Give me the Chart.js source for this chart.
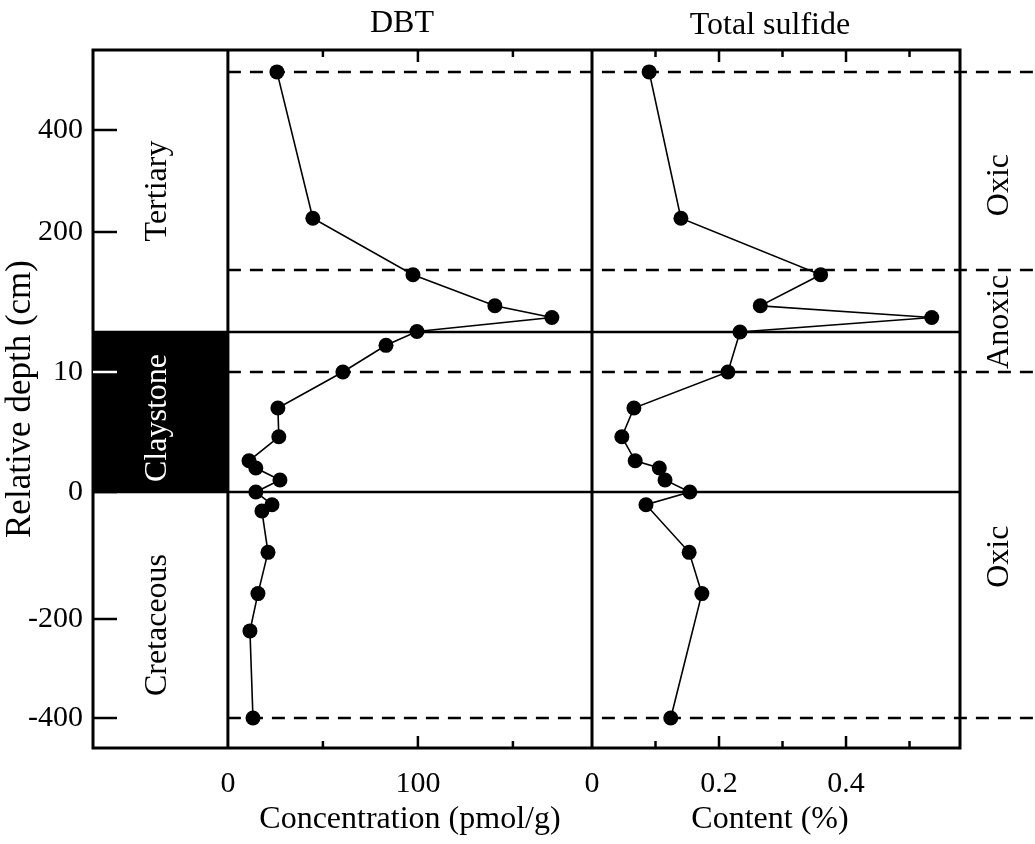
<!DOCTYPE html>
<html>
<head>
<meta charset="utf-8">
<script src="https://cdn.jsdelivr.net/npm/chart.js@4"></script>
<style>
  html, body { margin: 0; padding: 0; background: #fff; }
  #wrap { width: 1035px; height: 844px; }
</style>
</head>
<body>
<div id="wrap"><canvas id="chart" width="1035" height="844"></canvas></div>
<script>
// ── data ──
const DEPTH_DBT = [514, 227, 120, 62, 40, 14, 12, 10, 7, 4.6, 2.6, 2, 1, 0, -20, -30, -95, -160, -224, -400];
const DBT_VALUES = [25.8, 44.7, 97.4, 140.5, 170.5, 99.5, 83.2, 60.5, 26.3, 26.8, 11.1, 14.7, 27.4, 14.7, 23.2, 17.9, 21.1, 15.8, 11.6, 13.2];

const DEPTH_SULFIDE = [514, 227, 120, 62, 40, 13, 10, 7, 4.6, 2.6, 2, 1, 0, -20, -95, -160, -400];
const SULFIDE_VALUES = [0.09, 0.14, 0.36, 0.265, 0.535, 0.233, 0.214, 0.066, 0.047, 0.068, 0.106, 0.115, 0.154, 0.085, 0.153, 0.173, 0.124];

const DEPTH_TICKS = [400, 200, 10, 0, -200, -400];
const DBT_TICKS = [0, 50, 100, 150];
const DBT_LABELS = [0, 100];
const SULFIDE_TICKS = [0, 0.1, 0.2, 0.3, 0.4, 0.5];
const SULFIDE_LABELS = ['0', '0.2', '0.4'];

const DASHED_DEPTHS = [514, 129, 10, -400];
const SOLID_DEPTHS = [13, 0];
const CLAY_TOP = 13;

// the depth axis is broken: each stretch has its own scale
const DEPTH_KNOTS = [-460, -400, -200, 0, 10, 13, 200, 400, 557];
const UNIT_KNOTS = [0, 30, 129, 256, 376, 416, 516, 618, 698];

const FONT = '"Liberation Serif", "Times New Roman", serif';

function interp(v, xs, ys) {
    let i = 0;
    while (i < xs.length - 2 && v > xs[i + 1]) i++;
    const t = (v - xs[i]) / (xs[i + 1] - xs[i]);
    return ys[i] + t * (ys[i + 1] - ys[i]);
}

class DepthScale extends Chart.LinearScale {
    static id = 'depth';
    static defaults = {};
    getPixelForValue(v) {
        if (v === null || v === undefined) return NaN;
        return super.getPixelForValue(interp(v, DEPTH_KNOTS, UNIT_KNOTS));
    }
    getValueForPixel(p) {
        return interp(super.getValueForPixel(p), UNIT_KNOTS, DEPTH_KNOTS);
    }
}
Chart.register(DepthScale);

function line(ctx, x1, y1, x2, y2) {
    ctx.beginPath();
    ctx.moveTo(x1, y1);
    ctx.lineTo(x2, y2);
    ctx.stroke();
}

function vText(ctx, text, x, y, color) {
    ctx.save();
    ctx.translate(x, y);
    ctx.rotate(-Math.PI / 2);
    ctx.fillStyle = color;
    ctx.textAlign = 'center';
    ctx.textBaseline = 'middle';
    ctx.fillText(text, 0, 0);
    ctx.restore();
}

// ── frame, column, reference lines, ticks and labels ──
const overlay = {
    id: 'overlay',
    beforeDatasetsDraw(chart) {
        const { ctx, chartArea: a, scales } = chart;
        const y = scales.y, xd = scales.xDbt, xs = scales.xSul;
        const xDbt0 = xd.getPixelForValue(0);
        const xSul0 = xs.getPixelForValue(0);

        ctx.save();
        // claystone band
        const yClayTop = y.getPixelForValue(CLAY_TOP);
        const yClayBot = y.getPixelForValue(0);
        ctx.fillStyle = '#000';
        ctx.fillRect(a.left, yClayTop, xDbt0 - a.left, yClayBot - yClayTop);

        ctx.strokeStyle = '#000';
        ctx.lineWidth = 2.5;
        ctx.setLineDash([13, 9]);
        DASHED_DEPTHS.forEach(d => {
            const py = y.getPixelForValue(d);
            line(ctx, xDbt0, py, chart.width, py);
        });
        ctx.setLineDash([]);
        SOLID_DEPTHS.forEach(d => {
            const py = y.getPixelForValue(d);
            line(ctx, a.left, py, a.right, py);
        });

        ctx.lineWidth = 3;
        ctx.strokeRect(a.left, a.top, a.right - a.left, a.bottom - a.top);
        line(ctx, xDbt0, a.top, xDbt0, a.bottom);
        line(ctx, xSul0, a.top, xSul0, a.bottom);

        // inward ticks
        ctx.lineWidth = 2.5;
        DEPTH_TICKS.forEach(d => {
            const py = y.getPixelForValue(d);
            ctx.strokeStyle = (d > 0 && d <= CLAY_TOP) ? '#fff' : '#000';
            line(ctx, a.left, py, a.left + 24, py);
        });
        ctx.strokeStyle = '#000';
        DBT_TICKS.slice(1).forEach(v => {
            const px = xd.getPixelForValue(v);
            const len = v % 100 === 0 ? 12 : 7;
            line(ctx, px, a.bottom, px, a.bottom - len);
            line(ctx, px, a.top, px, a.top + len);
        });
        SULFIDE_TICKS.slice(1).forEach(v => {
            const px = xs.getPixelForValue(v);
            const len = Math.round(v * 10) % 2 === 0 ? 12 : 7;
            line(ctx, px, a.bottom, px, a.bottom - len);
            line(ctx, px, a.top, px, a.top + len);
        });
        ctx.restore();
    },
    afterDatasetsDraw(chart) {
        const { ctx, chartArea: a, scales } = chart;
        const y = scales.y, xd = scales.xDbt, xs = scales.xSul;
        const xDbt0 = xd.getPixelForValue(0);
        const xSul0 = xs.getPixelForValue(0);

        ctx.save();
        ctx.fillStyle = '#000';
        ctx.textAlign = 'center';
        ctx.textBaseline = 'middle';

        // x tick labels
        ctx.font = '30px ' + FONT;
        DBT_LABELS.forEach(v => ctx.fillText(String(v), xd.getPixelForValue(v), a.bottom + 36));
        SULFIDE_LABELS.forEach(v => ctx.fillText(v, xs.getPixelForValue(Number(v)), a.bottom + 36));

        // axis titles
        ctx.font = '32px ' + FONT;
        ctx.fillText('Concentration (pmol/g)', (xDbt0 + xSul0) / 2, a.bottom + 72);
        ctx.fillText('Content (%)', (xSul0 + a.right) / 2 - 6, a.bottom + 72);
        ctx.fillText('DBT', (xDbt0 + xSul0) / 2 - 8, 24);
        ctx.fillText('Total sulfide', (xSul0 + a.right) / 2 - 6, 26);

        // stratigraphic column
        const colX = (a.left + xDbt0) / 2 - 3;
        const yClayTop = y.getPixelForValue(CLAY_TOP);
        const yClayBot = y.getPixelForValue(0);
        vText(ctx, 'Tertiary', colX, (a.top + yClayTop) / 2, '#000');
        vText(ctx, 'Claystone', colX, (yClayTop + yClayBot) / 2 + 6, '#fff');
        vText(ctx, 'Cretaceous', colX, (yClayBot + a.bottom) / 2 + 5, '#000');

        // redox zones
        const zoneX = a.right + 40;
        vText(ctx, 'Oxic', zoneX, y.getPixelForValue(292), '#000');
        vText(ctx, 'Anoxic', zoneX, y.getPixelForValue(32), '#000');
        vText(ctx, 'Oxic', zoneX, y.getPixelForValue(-102), '#000');
        ctx.restore();
    }
};

Chart.defaults.font.family = FONT;
Chart.defaults.color = '#000';

new Chart(document.getElementById('chart'), {
    type: 'line',
    data: {
        datasets: [
            {
                label: 'DBT',
                data: DBT_VALUES.map((v, i) => ({ x: v, y: DEPTH_DBT[i] })),
                xAxisID: 'xDbt',
                yAxisID: 'y',
            },
            {
                label: 'Total sulfide',
                data: SULFIDE_VALUES.map((v, i) => ({ x: v, y: DEPTH_SULFIDE[i] })),
                xAxisID: 'xSul',
                yAxisID: 'y',
            },
        ].map(ds => Object.assign(ds, {
            borderColor: '#000',
            borderWidth: 1.6,
            backgroundColor: '#000',
            pointBackgroundColor: '#000',
            pointBorderWidth: 0,
            pointRadius: 7.5,
            tension: 0,
            fill: false,
        })),
    },
    options: {
        responsive: false,
        animation: false,
        events: [],
        layout: { padding: { top: 50, right: 75, bottom: 96, left: 0 } },
        plugins: { legend: { display: false }, tooltip: { enabled: false } },
        scales: {
            xDbt: { type: 'linear', position: 'bottom', display: false, min: -71, max: 385.3 },
            xSul: { type: 'linear', position: 'bottom', display: false, min: -0.7858, max: 0.5795 },
            y: {
                type: 'depth',
                position: 'left',
                min: 0,
                max: 698,
                bounds: 'data',
                grid: { display: false, drawTicks: false },
                border: { display: false },
                afterBuildTicks: scale => { scale.ticks = DEPTH_TICKS.map(v => ({ value: v })); },
                afterFit: scale => { scale.width = 93; },
                ticks: {
                    autoSkip: false,
                    padding: 10,
                    font: { size: 30 },
                    callback: v => String(v),
                },
                title: {
                    display: true,
                    text: 'Relative depth (cm)',
                    font: { size: 35 },
                    padding: { top: 0, bottom: 0 },
                },
            },
        },
    },
    plugins: [overlay],
});
</script>
</body>
</html>
